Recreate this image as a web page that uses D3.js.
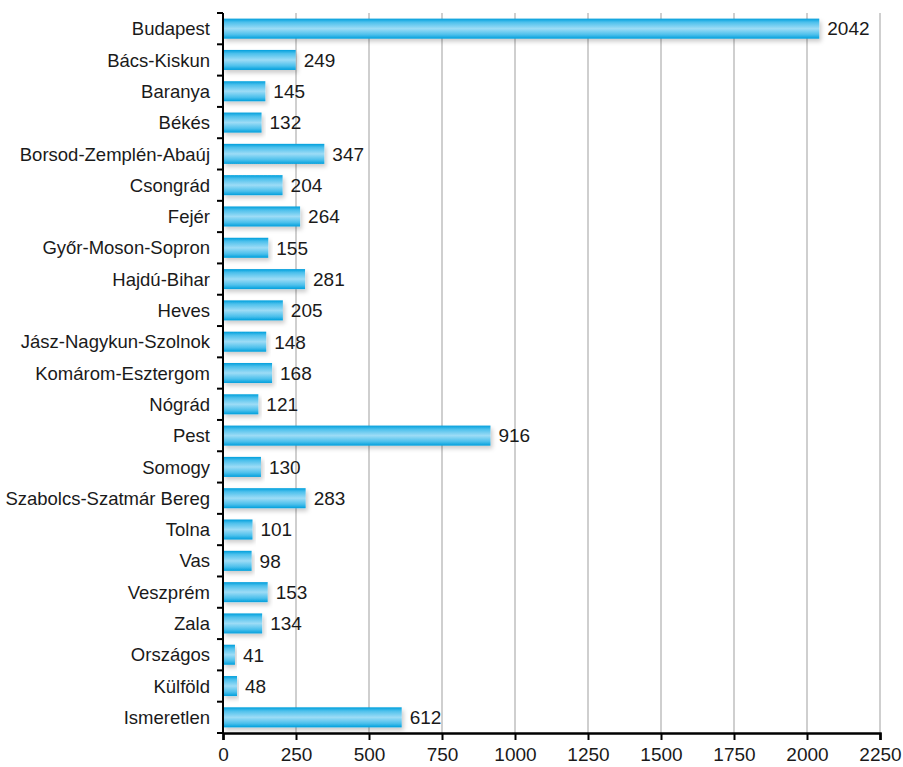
<!DOCTYPE html>
<html lang="hu">
<head>
<meta charset="UTF-8">
<title>Megyék</title>
<script src="https://d3js.org/d3.v7.min.js"></script>
<style>
  body { margin: 0; background: #fff; }
  text { font-family: "Liberation Sans", Arial, sans-serif; fill: #1a1a1a; }
</style>
</head>
<body>
<div id="vis"></div>
<script>
var categories = ["Budapest", "Bács-Kiskun", "Baranya", "Békés", "Borsod-Zemplén-Abaúj",
  "Csongrád", "Fejér", "Győr-Moson-Sopron", "Hajdú-Bihar", "Heves",
  "Jász-Nagykun-Szolnok", "Komárom-Esztergom", "Nógrád", "Pest", "Somogy",
  "Szabolcs-Szatmár Bereg", "Tolna", "Vas", "Veszprém", "Zala",
  "Országos", "Külföld", "Ismeretlen"];
var values = [2042, 249, 145, 132, 347, 204, 264, 155, 281, 205, 148, 168, 121, 916, 130,
  283, 101, 98, 153, 134, 41, 48, 612];
var xTicks = [0, 250, 500, 750, 1000, 1250, 1500, 1750, 2000, 2250];

var width = 903, height = 767;
var margin = { top: 13, left: 223, right: 23, bottom: 34 };
var w = width - margin.left - margin.right;
var h = height - margin.top - margin.bottom;

var svg = d3.select("#vis").append("svg")
    .attr("width", width)
    .attr("height", height);

var defs = svg.append("defs");
var grad = defs.append("linearGradient")
    .attr("id", "barGrad")
    .attr("x1", 0).attr("y1", 0).attr("x2", 0).attr("y2", 1);
grad.append("stop").attr("offset", "0%").attr("stop-color", "#009fdc");
grad.append("stop").attr("offset", "18%").attr("stop-color", "#4cc0ec");
grad.append("stop").attr("offset", "50%").attr("stop-color", "#9ddcf6");
grad.append("stop").attr("offset", "80%").attr("stop-color", "#4cc0ec");
grad.append("stop").attr("offset", "100%").attr("stop-color", "#009fdc");

var shadow = defs.append("filter").attr("id", "shadow")
    .attr("x", "-5%").attr("y", "-20%").attr("width", "115%").attr("height", "160%");
shadow.append("feDropShadow")
    .attr("dx", 2).attr("dy", 3).attr("stdDeviation", 2)
    .attr("flood-color", "#000").attr("flood-opacity", 0.2);

var g = svg.append("g")
    .attr("transform", "translate(" + margin.left + "," + margin.top + ")");

var x = d3.scaleLinear().domain([0, 2250]).range([0, w]);
var y = d3.scaleBand().domain(categories).range([0, h]).paddingInner(0.36).paddingOuter(0.18);
var yEdge = d3.scaleLinear().domain([0, categories.length]).range([0, h]);

// grid
g.selectAll(".grid").data(xTicks.slice(1))
  .enter().append("line")
    .attr("class", "grid")
    .attr("x1", function(d) { return x(d); })
    .attr("x2", function(d) { return x(d); })
    .attr("y1", 0).attr("y2", h)
    .attr("stroke", "#cfcfcf").attr("stroke-width", 2);

// bars
g.selectAll(".bar").data(values)
  .enter().append("rect")
    .attr("class", "bar")
    .attr("x", 0)
    .attr("y", function(d, i) { return y(categories[i]); })
    .attr("width", function(d) { return x(d); })
    .attr("height", y.bandwidth())
    .attr("fill", "url(#barGrad)")
    .attr("filter", "url(#shadow)");

// value labels
g.selectAll(".label").data(values)
  .enter().append("text")
    .attr("class", "label")
    .attr("x", function(d) { return x(d) + 8; })
    .attr("y", function(d, i) { return y(categories[i]) + y.bandwidth() / 2; })
    .attr("dy", "0.36em")
    .attr("font-size", 19)
    .text(function(d) { return d; });

// y axis
g.append("line")
    .attr("x1", 0).attr("x2", 0).attr("y1", 0).attr("y2", h)
    .attr("stroke", "#000").attr("stroke-width", 2);
g.selectAll(".ytick").data(d3.range(categories.length + 1))
  .enter().append("line")
    .attr("class", "ytick")
    .attr("x1", -6).attr("x2", 0)
    .attr("y1", function(d) { return yEdge(d); })
    .attr("y2", function(d) { return yEdge(d); })
    .attr("stroke", "#000").attr("stroke-width", 2);
g.selectAll(".cat").data(categories)
  .enter().append("text")
    .attr("class", "cat")
    .attr("x", -13)
    .attr("y", function(d) { return y(d) + y.bandwidth() / 2; })
    .attr("dy", "0.36em")
    .attr("text-anchor", "end")
    .attr("font-size", 18.5)
    .text(function(d) { return d; });

// x axis
var xAxis = d3.axisBottom(x).tickValues(xTicks).tickFormat(d3.format("d"))
    .tickSize(7).tickPadding(8);
var xg = g.append("g")
    .attr("transform", "translate(0," + h + ")")
    .call(xAxis);
xg.select(".domain").attr("stroke", "#000").attr("stroke-width", 2.5);
xg.selectAll(".tick line").attr("stroke", "#000").attr("stroke-width", 2);
xg.selectAll(".tick text")
    .attr("font-family", "Liberation Sans, Arial, sans-serif")
    .attr("font-size", 19).attr("fill", "#1a1a1a");
</script>
</body>
</html>
